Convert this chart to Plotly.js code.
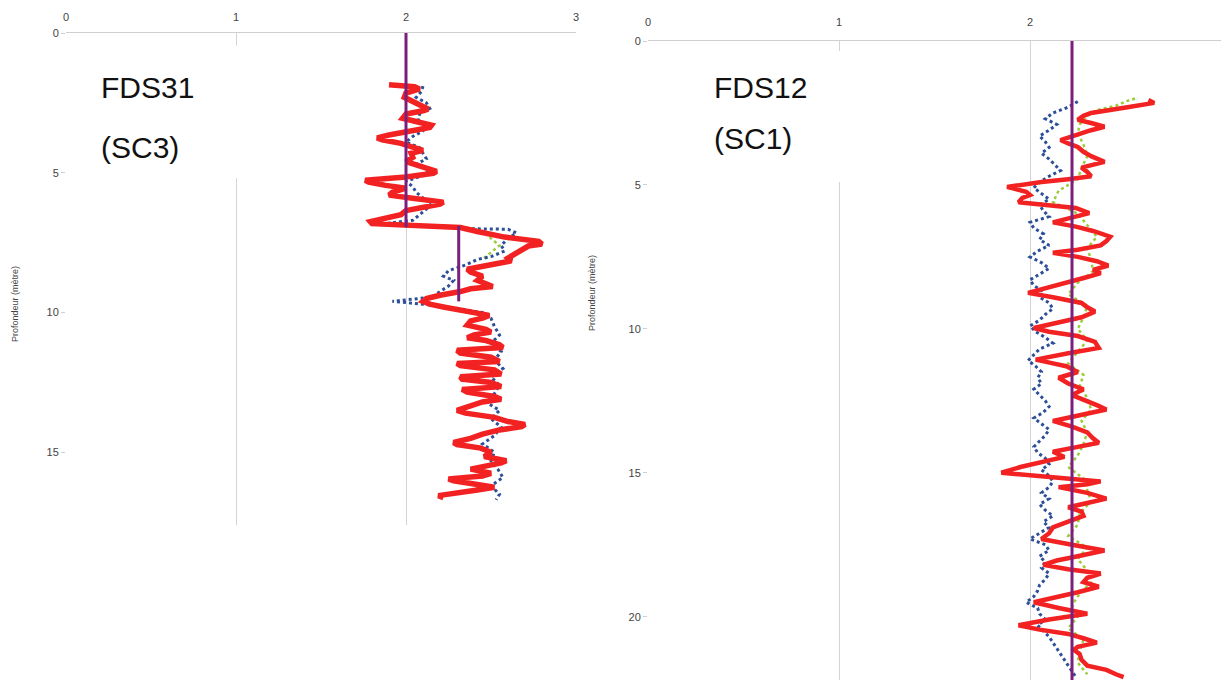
<!DOCTYPE html>
<html>
<head>
<meta charset="utf-8">
<script src="https://cdn.plot.ly/plotly-3.0.1.min.js"></script>
<style>html,body{margin:0;padding:0;background:#fff;}#chart{width:1223px;height:680px;}</style>
</head>
<body>
<div id="chart"></div>
<script>
// ---------- FDS31 (SC3) ----------
const fds31RedDepth = [1.85,1.92,2.0,2.15,2.3,2.45,2.6,2.72,2.78,2.9,3.05,3.2,3.3,3.38,3.5,3.65,3.75,3.82,3.95,4.1,4.2,4.3,4.45,4.6,4.75,4.95,5.02,5.15,5.27,5.33,5.45,5.55,5.7,5.8,5.92,6.05,6.12,6.25,6.35,6.5,6.6,6.75,6.82,6.9,6.96,7.1,7.3,7.45,7.55,7.62,7.75,7.9,8.05,8.15,8.3,8.45,8.55,8.7,8.85,9.0,9.07,9.15,9.25,9.38,9.5,9.6,9.7,9.8,9.95,10.1,10.2,10.3,10.45,10.6,10.7,10.8,10.9,11.0,11.15,11.25,11.35,11.45,11.6,11.75,11.82,11.9,12.05,12.2,12.3,12.38,12.5,12.65,12.75,12.85,13.0,13.1,13.2,13.35,13.5,13.6,13.75,13.9,14.0,14.08,14.2,14.35,14.5,14.65,14.72,14.85,15.0,15.15,15.3,15.38,15.5,15.6,15.75,15.85,15.95,16.02,16.15,16.25,16.35,16.45,16.55,16.62];
const fds31RedVal = [1.90,2.05,2.08,2.0,1.99,2.04,2.08,2.13,2.1,2.0,1.98,2.1,2.15,2.14,2.02,1.9,1.83,1.86,1.97,2.06,2.1,2.03,2.04,2.0,2.08,2.18,2.16,2.0,1.76,1.78,1.88,2.0,1.92,1.9,2.05,2.22,2.2,2.07,2.0,1.97,1.88,1.79,1.8,2.05,2.32,2.42,2.58,2.78,2.8,2.72,2.68,2.63,2.6,2.62,2.5,2.36,2.38,2.45,2.42,2.5,2.51,2.38,2.32,2.2,2.12,2.1,2.14,2.22,2.38,2.49,2.45,2.38,2.36,2.47,2.5,2.4,2.36,2.47,2.55,2.57,2.3,2.32,2.5,2.55,2.3,2.32,2.52,2.56,2.32,2.33,2.5,2.56,2.33,2.36,2.52,2.56,2.45,2.38,2.3,2.35,2.52,2.6,2.7,2.68,2.55,2.45,2.38,2.28,2.3,2.44,2.5,2.46,2.59,2.56,2.45,2.38,2.5,2.45,2.25,2.28,2.42,2.52,2.42,2.3,2.19,2.22];
const fds31BlueDepth = [1.9,2.1,2.3,2.5,2.7,2.9,3.1,3.3,3.5,3.7,3.9,4.1,4.3,4.5,4.7,4.9,5.1,5.3,5.5,5.7,5.9,6.1,6.3,6.5,6.7,6.8,6.9,7.0,7.02,7.15,7.35,7.6,7.8,8.0,8.1,8.3,8.5,8.7,8.85,9.05,9.25,9.45,9.6,9.7,9.85,10.0,10.2,10.5,10.8,11.1,11.4,11.7,12.0,12.3,12.6,12.9,13.2,13.5,13.8,14.1,14.4,14.7,15.0,15.3,15.6,15.9,16.2,16.5,16.7];
const fds31BlueVal = [2.1,2.09,2.06,2.12,2.14,2.08,2.07,2.13,2.1,2.04,2.0,2.08,2.1,2.12,2.06,2.14,2.1,2.0,2.04,2.06,2.1,2.15,2.12,2.08,2.04,1.9,2.1,2.35,2.6,2.65,2.6,2.56,2.58,2.5,2.42,2.35,2.25,2.22,2.28,2.25,2.2,2.15,1.92,2.1,2.3,2.45,2.5,2.52,2.55,2.5,2.56,2.52,2.57,2.5,2.55,2.52,2.47,2.55,2.5,2.56,2.52,2.45,2.52,2.5,2.54,2.57,2.5,2.55,2.53];
const fds31GreenDepth = [6.95,7.0,7.1,7.6,8.1];
const fds31GreenVal = [2.33,2.4,2.45,2.55,2.45];
const fds31MeanDepthA = [0,6.95];
const fds31MeanValA = [2.0,2.0];
const fds31MeanDepthB = [6.9,9.6];
const fds31MeanValB = [2.31,2.31];

// ---------- FDS12 (SC1) ----------
const fds12RedDepth = [2.05,2.15,2.3,2.4,2.5,2.6,2.74,2.85,2.98,3.1,3.2,3.32,3.44,3.56,3.68,3.85,4.0,4.2,4.3,4.4,4.55,4.7,4.8,4.9,5.07,5.15,5.24,5.35,5.45,5.6,5.7,5.8,5.98,6.15,6.3,6.45,6.6,6.8,6.95,7.1,7.25,7.36,7.5,7.65,7.8,7.95,8.06,8.2,8.4,8.6,8.75,8.9,9.1,9.25,9.4,9.6,9.8,9.97,10.1,10.25,10.45,10.66,10.85,11.07,11.2,11.3,11.5,11.7,11.9,12.1,12.3,12.5,12.65,12.8,13.0,13.2,13.4,13.6,13.8,13.96,14.1,14.27,14.45,14.6,14.8,15.0,15.15,15.3,15.4,15.5,15.7,15.9,16.05,16.2,16.35,16.5,16.7,16.9,17.1,17.3,17.5,17.7,17.9,18.05,18.2,18.35,18.5,18.65,18.8,18.96,19.15,19.3,19.5,19.7,19.9,20.1,20.3,20.45,20.6,20.75,20.9,21.05,21.15,21.3,21.5,21.7,21.85,22.0,22.1];
const fds12RedVal = [2.62,2.65,2.51,2.4,2.32,2.28,2.25,2.32,2.39,2.32,2.27,2.2,2.16,2.2,2.25,2.28,2.32,2.39,2.33,2.27,2.3,2.32,2.2,2.06,1.88,1.92,1.98,2.0,1.96,1.94,2.08,2.24,2.31,2.2,2.12,2.24,2.33,2.42,2.4,2.37,2.25,2.12,2.25,2.35,2.41,2.33,2.37,2.3,2.18,2.06,1.99,2.12,2.27,2.3,2.34,2.27,2.12,2.02,2.1,2.25,2.34,2.36,2.2,2.03,2.12,2.19,2.25,2.15,2.2,2.28,2.22,2.3,2.35,2.4,2.25,2.12,2.22,2.3,2.33,2.36,2.25,2.12,2.18,2.07,1.95,1.85,2.1,2.37,2.3,2.15,2.3,2.4,2.3,2.2,2.27,2.28,2.2,2.12,2.1,2.06,2.22,2.39,2.25,2.14,2.07,2.2,2.37,2.3,2.28,2.36,2.25,2.15,2.02,2.15,2.3,2.1,1.94,2.05,2.2,2.28,2.35,2.25,2.23,2.26,2.27,2.3,2.4,2.45,2.49];
const fds12BlueDepth = [2.1,2.3,2.5,2.7,2.9,3.1,3.3,3.5,3.7,3.9,4.1,4.3,4.5,4.7,4.9,5.1,5.3,5.5,5.7,5.9,6.1,6.3,6.5,6.7,6.9,7.1,7.3,7.5,7.7,7.9,8.1,8.3,8.5,8.7,8.9,9.1,9.3,9.5,9.7,9.9,10.1,10.3,10.5,10.7,10.9,11.1,11.3,11.5,11.7,11.9,12.1,12.3,12.5,12.7,12.9,13.1,13.3,13.5,13.7,13.9,14.1,14.3,14.5,14.7,14.9,15.1,15.3,15.5,15.7,15.9,16.1,16.3,16.5,16.7,16.9,17.1,17.3,17.5,17.7,17.9,18.1,18.3,18.5,18.7,18.9,19.1,19.3,19.5,19.7,19.9,20.1,20.3,20.5,20.7,20.9,21.1,21.3,21.5,21.7,21.9,22.1];
const fds12BlueVal = [2.25,2.2,2.12,2.08,2.14,2.1,2.05,2.08,2.1,2.06,2.1,2.13,2.16,2.1,2.05,2.02,2.06,2.1,2.05,2.07,2.1,2.0,2.02,2.07,2.05,2.1,2.04,2.0,2.06,2.1,2.05,2.0,2.02,2.07,2.05,2.1,2.12,2.08,2.05,2.0,2.03,2.08,2.12,2.05,2.02,1.99,2.03,2.06,2.04,2.06,2.02,2.05,2.08,2.1,2.07,2.02,2.06,2.1,2.08,2.05,2.02,2.04,2.08,2.1,2.06,2.1,2.12,2.1,2.06,2.1,2.05,2.08,2.12,2.07,2.1,2.05,2.0,2.08,2.1,2.05,2.08,2.06,2.1,2.08,2.05,2.04,2.02,1.98,2.04,2.05,2.08,2.04,2.07,2.1,2.12,2.14,2.16,2.18,2.2,2.22,2.24];
const fds12GreenDepth = [2.0,2.1,2.25,2.4,2.6,2.9,3.2,3.6,4.0,4.4,4.8,5.2,5.6,6.0,6.4,6.8,7.2,7.6,8.0,8.4,8.8,9.2,9.6,10.0,10.4,10.8,11.2,11.6,12.0,12.4,12.8,13.2,13.6,14.0,14.4,14.8,15.2,15.6,16.0,16.4,16.8,17.2,17.6,18.0,18.4,18.8,19.2,19.6,20.0,20.4,20.8,21.2,21.6,22.0];
const fds12GreenVal = [2.55,2.5,2.45,2.35,2.3,2.26,2.25,2.28,2.3,2.27,2.25,2.15,2.12,2.25,2.3,2.35,2.3,2.32,2.33,2.25,2.2,2.3,2.28,2.25,2.3,2.25,2.2,2.28,2.26,2.3,2.32,2.27,2.3,2.28,2.25,2.2,2.28,2.3,2.32,2.26,2.25,2.2,2.3,2.25,2.3,2.32,2.26,2.22,2.25,2.2,2.28,2.26,2.25,2.3];
const fds12MeanDepth = [0,22.2];
const fds12MeanVal = [2.22,2.22];

const xTickVals = [0,1,2,3];
const yTicksLeft = [0,5,10,15];
const yTicksRight = [0,5,10,15,20];

const RED = '#f22222', BLUE = '#2c4f98', GREEN = '#9ccc3a', PURPLE = '#7b1f7d';

function tr(x, y, color, width, dash, xa, ya) {
  return {type:'scatter', mode:'lines', x:x, y:y, xaxis:xa, yaxis:ya,
    line:{color:color, width:width, dash:dash}, hoverinfo:'skip', showlegend:false};
}

const data = [
  tr(fds31GreenVal, fds31GreenDepth, GREEN, 2.5, 'dot', 'x', 'y'),
  tr(fds31BlueVal, fds31BlueDepth, BLUE, 3, 'dot', 'x', 'y'),
  tr(fds31RedVal, fds31RedDepth, RED, 5.5, 'solid', 'x', 'y'),
  tr(fds31MeanValA, fds31MeanDepthA, PURPLE, 3, 'solid', 'x', 'y'),
  tr(fds31MeanValB, fds31MeanDepthB, PURPLE, 3, 'solid', 'x', 'y'),
  tr(fds12GreenVal, fds12GreenDepth, GREEN, 2.5, 'dot', 'x2', 'y2'),
  tr(fds12BlueVal, fds12BlueDepth, BLUE, 3, 'dot', 'x2', 'y2'),
  tr(fds12RedVal, fds12RedDepth, RED, 4.5, 'solid', 'x2', 'y2'),
  tr(fds12MeanVal, fds12MeanDepth, PURPLE, 3, 'solid', 'x2', 'y2')
];

const FONT = 'Arial, "Liberation Sans", sans-serif';
const tickFont = {family:FONT, size:11, color:'#444'};
function xa(domain, anchor, tl) {
  return {domain:domain, anchor:anchor, side:'top', range:[0,3], tickvals:xTickVals,
    showgrid:true, gridcolor:'#d4d4d4', gridwidth:1, zeroline:false,
    showline:true, linecolor:'#cfcfcf', linewidth:1, ticks:'outside', ticklen:tl, tickcolor:'rgba(0,0,0,0)',
    tickfont:tickFont, fixedrange:true};
}
function ya(domain, anchor, range, tv) {
  return {domain:domain, anchor:anchor, range:range, tickvals:tv,
    showgrid:false, zeroline:false, showline:false, ticks:'outside', ticklen:4, tickcolor:'#d0d0d0',
    tickfont:tickFont, fixedrange:true};
}

function label(text, px, py) {
  return {text:text, xref:'paper', yref:'paper', x:px/1223, y:1-py/680, xanchor:'left', yanchor:'middle',
    showarrow:false, font:{family:FONT, size:30, color:'#111'}};
}
function ytitle(px, py) {
  return {text:'Profondeur (mètre)', xref:'paper', yref:'paper', x:px/1223, y:1-py/680,
    xanchor:'center', yanchor:'middle', textangle:-90, showarrow:false, font:{family:FONT, size:9, color:'#444'}};
}

const layout = {
  width:1223, height:680,
  margin:{l:0, r:0, t:0, b:0},
  paper_bgcolor:'#ffffff', plot_bgcolor:'rgba(0,0,0,0)',
  showlegend:false,
  xaxis: xa([66/1223, 576/1223], 'y', 7),
  yaxis: ya([1-525/680, 1-33/680], 'x', [17.6, 0], yTicksLeft),
  xaxis2: xa([648/1223, 1221/1223], 'y2', 10),
  yaxis2: ya([0, 1-41/680], 'x2', [22.2, 0], yTicksRight),
  shapes: [
    {type:'rect', xref:'x', yref:'y', x0:0.9, x1:1.1, y0:0.45, y1:5.2, fillcolor:'#ffffff', line:{width:0}, layer:'above'},
    {type:'rect', xref:'x2', yref:'y2', x0:0.9, x1:1.1, y0:0.35, y1:4.9, fillcolor:'#ffffff', line:{width:0}, layer:'above'}
  ],
  annotations: [
    label('FDS31', 99, 88),
    label('(SC3)', 99, 147),
    label('FDS12', 712, 88),
    label('(SC1)', 712, 139),
    ytitle(15, 304),
    ytitle(592, 293)
  ]
};

Plotly.newPlot('chart', data, layout, {displayModeBar:false, staticPlot:true});
</script>
</body>
</html>
